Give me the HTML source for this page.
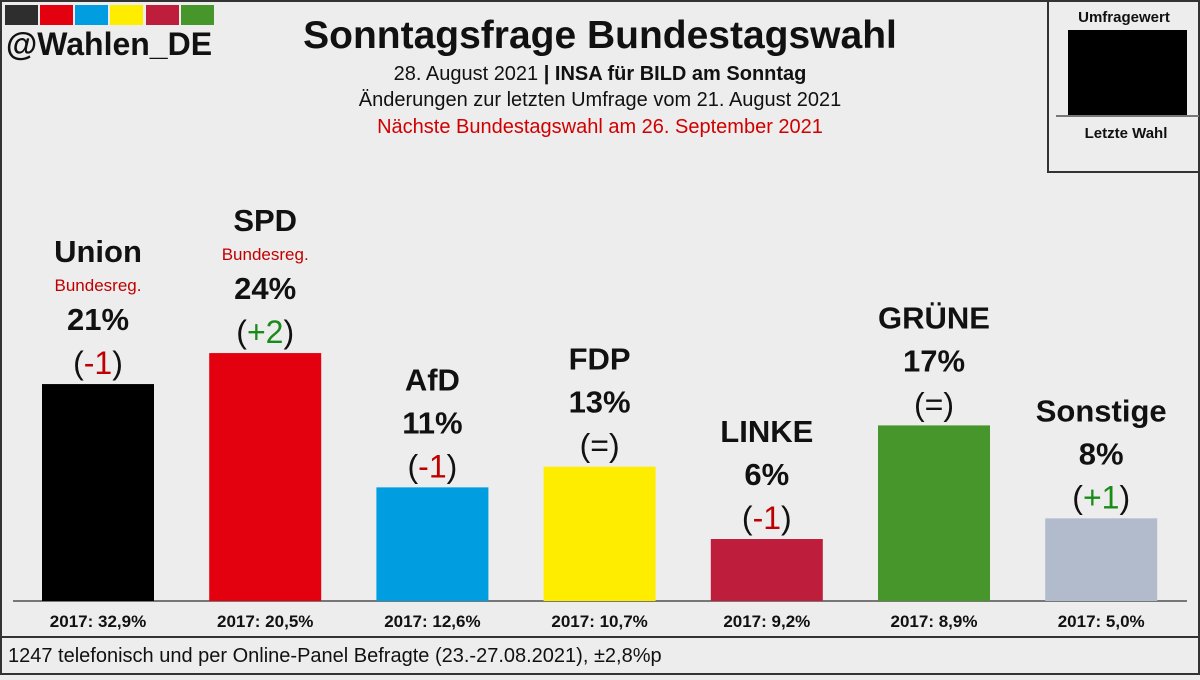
<!DOCTYPE html>
<html><head><meta charset="utf-8"><style>
body{margin:0;width:1200px;height:675px;overflow:hidden;background:#ededed;font-family:"Liberation Sans",sans-serif}
#wrap{position:relative;width:1200px;height:675px}
</style></head><body>
<div id="wrap">
<svg id="svg" width="1200" height="675" xmlns="http://www.w3.org/2000/svg">
<rect x="1" y="1" width="1198" height="673" fill="#ededed" stroke="#333" stroke-width="2"/>
<g>
<rect x="5" y="5" width="33" height="20" fill="#2e2e2e"/><rect x="40" y="5" width="33" height="20" fill="#e3000f"/><rect x="75" y="5" width="33" height="20" fill="#009ee0"/><rect x="110" y="5" width="33" height="20" fill="#ffed00"/><rect x="146" y="5" width="33" height="20" fill="#be1e3c"/><rect x="181" y="5" width="33" height="20" fill="#46962b"/>
</g>
<text x="6" y="55" font-size="32" font-weight="bold" fill="#111">@Wahlen_DE</text>
<text x="600" y="48" font-size="39" font-weight="bold" text-anchor="middle" fill="#111">Sonntagsfrage Bundestagswahl</text>
<text x="600" y="80" font-size="20" text-anchor="middle" fill="#111">28. August 2021 <tspan font-weight="bold">| INSA für BILD am Sonntag</tspan></text>
<text x="600" y="106" font-size="20" text-anchor="middle" fill="#111">Änderungen zur letzten Umfrage vom 21. August 2021</text>
<text x="600" y="133" font-size="20" text-anchor="middle" fill="#d00000">Nächste Bundestagswahl am 26. September 2021</text>
<g>
<rect x="1048" y="1" width="151" height="171" fill="#ededed" stroke="#333" stroke-width="2"/>
<text x="1124" y="22" font-size="15" font-weight="bold" text-anchor="middle" fill="#111">Umfragewert</text>
<rect x="1068" y="30" width="119" height="86" fill="#000"/>
<line x1="1056" y1="116" x2="1199" y2="116" stroke="#777" stroke-width="2"/>
<text x="1126" y="138" font-size="15" font-weight="bold" text-anchor="middle" fill="#111">Letzte Wahl</text>
</g>
<line x1="13" y1="601" x2="1187" y2="601" stroke="#777" stroke-width="2"/>
<line x1="0" y1="637" x2="1200" y2="637" stroke="#333" stroke-width="2"/>
<text x="8" y="662" font-size="20" fill="#111">1247 telefonisch und per Online-Panel Befragte (23.-27.08.2021), ±2,8%p</text>
<g id="bars"></g>
</svg>
</div>
<script>
const parties=["Union","SPD","AfD","FDP","LINKE","GRÜNE","Sonstige"];
const values=[21,24,11,13,6,17,8];
const changes=["-1","+2","-1","=","-1","=","+1"];
const previous=["32,9","20,5","12,6","10,7","9,2","8,9","5,0"];
const govt=[true,true,false,false,false,false,false];
const colors=["#000000","#e3000f","#009ee0","#ffed00","#be1e3c","#46962b","#b1bbcc"];
const NS="http://www.w3.org/2000/svg";
const base=601, scale=10.33, x0=98, step=167.2, bw=112;
const yS=v=>base-v*scale;
const xS=i=>x0+i*step;
const g=document.getElementById('bars');
function t(x,y,s,sz,w,fill,name){const e=document.createElementNS(NS,'text');e.setAttribute('x',x);e.setAttribute('y',y);e.setAttribute('font-size',sz);e.setAttribute('font-weight',w);e.setAttribute('fill',fill);e.setAttribute('text-anchor','middle');e.textContent=s;


g.appendChild(e);return e;}
parties.forEach((p,i)=>{
 const cx=xS(i), top=yS(values[i]);
 const r=document.createElementNS(NS,'rect');
 r.setAttribute('x',cx-bw/2);r.setAttribute('y',top);r.setAttribute('width',bw);r.setAttribute('height',base-top);r.setAttribute('fill',colors[i]);
 
 
 g.appendChild(r);
 const c=changes[i];
 const ce=t(cx,top-10,'',32,'normal','#111','change-label');
 ce.innerHTML='(<tspan fill="'+(c==='='?'#111':c[0]==='+'?'#1a8a1a':'#c00000')+'">'+c+'</tspan>)';
 t(cx,top-54,values[i]+'%',31,'bold','#111','value-label');
 let ny=top-97;
 if(govt[i]){t(cx,top-93,'Bundesreg.',17,'normal','#c00000','government-label');ny=top-122;}
 t(cx,ny,p,31,'bold','#111','party-name');
 t(cx,627,'2017: '+previous[i]+'%',17,'bold','#111','previous-result');
});
</script>
</body></html>
